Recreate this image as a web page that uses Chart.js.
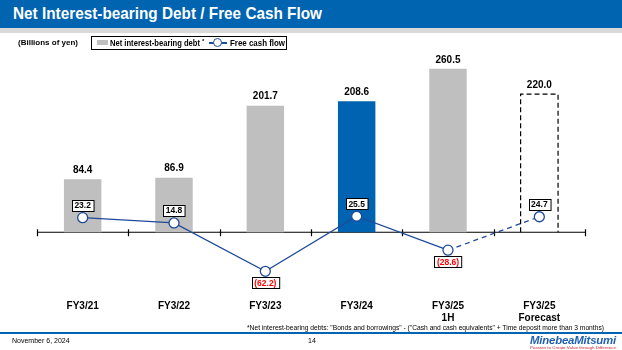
<!DOCTYPE html>
<html>
<head>
<meta charset="utf-8">
<script src="https://cdn.jsdelivr.net/npm/chart.js@4"></script>
<style>
  html, body { margin:0; padding:0; background:#fff; }
  #wrap { position:relative; width:622px; height:350px; overflow:hidden; font-family:"Liberation Sans", Arial, sans-serif; }
  #c { position:absolute; left:0; top:0; }
  .ov { position:absolute; pointer-events:none; white-space:nowrap; transform-origin:left top; }
  #titlebar { left:0; top:0; width:622px; height:28px; background:#0064B0; }
  #strip { left:0; top:28px; width:622px; height:5px; background:#D9D9D9; }
  #title { left:13px; top:4px; color:#fff; font-weight:bold; font-size:17px; line-height:20px; }
  #unit { left:18px; top:38px; font-weight:bold; font-size:8px; color:#000; }
  #legend { left:91px; top:36px; width:196px; height:14px; border:1px solid #000; box-sizing:border-box; font-weight:bold; font-size:8.5px; line-height:12px; }
  #legend span { position:absolute; top:0; transform-origin:left top; white-space:nowrap; }
  #footnote { left:247px; top:324px; font-size:7px; color:#000; }
  #fline { left:0; top:332px; width:622px; height:2px; background:#0064B0; }
  #date { left:12px; top:337px; font-size:7px; color:#000; }
  #page { left:308px; top:337px; font-size:7px; color:#000; }
  #logo { left:530px; top:334px; font-size:11.5px; font-weight:bold; font-style:italic; color:#1F5FB0; letter-spacing:-0.2px; }
  #tag { left:530px; top:346px; font-size:3.5px; color:#D0202A; }
</style>
</head>
<body>
<div id="wrap">
  <canvas id="c" width="622" height="350"></canvas>
  <div class="ov" id="titlebar"></div>
  <div class="ov" id="strip"></div>
  <div class="ov" id="title">Net Interest-bearing Debt / Free Cash Flow</div>
  <div class="ov" id="unit">(Billions of yen)</div>
  <div class="ov" id="legend">
    <span style="left:5px;top:3px;width:11px;height:5px;background:#BFBFBF;"></span>
    <span id="lg1" style="left:18px;">Net interest-bearing debt</span>
    <span style="left:110px;top:-2px;font-size:6px;">*</span>
    <span style="left:117px;top:5px;width:18px;height:2px;background:#1F4A9A;"></span>
    <span style="left:121px;top:1px;width:7px;height:7px;border:1.5px solid #1F4A9A;border-radius:50%;background:#fff;"></span>
    <span id="lg2" style="left:138px;">Free cash flow</span>
  </div>
  <div class="ov" id="footnote">*Net interest-bearing debts: "Bonds and borrowings" - ("Cash and cash equivalents" + Time deposit more than 3 months)</div>
  <div class="ov" id="fline"></div>
  <div class="ov" id="date">November 6, 2024</div>
  <div class="ov" id="page">14</div>
  <div class="ov" id="logo">MinebeaMitsumi</div>
  <div class="ov" id="tag">Passion to Create Value through Difference</div>
</div>
<script>
const categories = [["FY3/21"], ["FY3/22"], ["FY3/23"], ["FY3/24"], ["FY3/25", "1H"], ["FY3/25", "Forecast"]];
const debtValues = [84.4, 86.9, 201.7, 208.6, 260.5, 220.0];
const fcfValues = [23.2, 14.8, -62.2, 25.5, -28.6, 24.7];
const debtLabels = ["84.4", "86.9", "201.7", "208.6", "260.5", "220.0"];
const fcfLabels = ["23.2", "14.8", "(62.2)", "25.5", "(28.6)", "24.7"];
const barColors = ["#BFBFBF", "#BFBFBF", "#BFBFBF", "#0063B1", "#BFBFBF", "rgba(0,0,0,0)"];
const FORECAST_INDEX = 5;

function fitWidth(id, target) {
  const el = document.getElementById(id);
  const w = el.getBoundingClientRect().width;
  el.style.transform = 'scaleX(' + (target / w) + ')';
}
fitWidth('title', 309);
fitWidth('footnote', 357);
fitWidth('logo', 86);
fitWidth('tag', 86);
fitWidth('lg1', 90);
fitWidth('lg2', 55);

const FONT = '"Liberation Sans", Arial, sans-serif';

const overlay = {
  id: 'overlay',
  beforeDatasetsDraw(chart) {
    const ctx = chart.ctx, ca = chart.chartArea, y0 = chart.scales.y.getPixelForValue(0);
    const n = categories.length, step = (ca.right - ca.left) / n;
    ctx.save();
    ctx.strokeStyle = '#000';
    ctx.lineWidth = 1.2;
    ctx.beginPath();
    ctx.moveTo(ca.left, y0); ctx.lineTo(ca.right, y0);
    for (let i = 0; i <= n; i++) {
      const x = Math.round(ca.left + i * step) + 0.5;
      ctx.moveTo(x, y0 - 3); ctx.lineTo(x, y0 + 4);
    }
    ctx.stroke();
    ctx.restore();
  },
  afterDatasetsDraw(chart) {
    const ctx = chart.ctx;
    const barMeta = chart.getDatasetMeta(1);
    const lineMeta = chart.getDatasetMeta(0);
    ctx.save();
    // dashed forecast bar
    const fb = barMeta.data[FORECAST_INDEX];
    const hw = fb.width / 2;
    ctx.setLineDash([5, 3]);
    ctx.strokeStyle = '#000';
    ctx.lineWidth = 1.2;
    ctx.beginPath();
    ctx.moveTo(fb.x - hw, fb.base); ctx.lineTo(fb.x - hw, fb.y);
    ctx.lineTo(fb.x + hw, fb.y); ctx.lineTo(fb.x + hw, fb.base);
    ctx.stroke();
    ctx.setLineDash([]);
    // bar labels
    ctx.font = 'bold 10px ' + FONT;
    ctx.fillStyle = '#000';
    ctx.textAlign = 'center';
    ctx.textBaseline = 'bottom';
    barMeta.data.forEach((el, i) => {
      ctx.fillText(debtLabels[i], el.x, el.y - 4);
    });
    // fcf labels in boxes
    ctx.font = 'bold 8.5px ' + FONT;
    ctx.textBaseline = 'middle';
    lineMeta.data.forEach((pt, i) => {
      const neg = fcfValues[i] < 0;
      const txt = fcfLabels[i];
      const tw = ctx.measureText(txt).width;
      const bw = tw + 5, bh = 11;
      const cy = neg ? pt.y + 6 + bh / 2 : pt.y - 6 - bh / 2 - 1;
      const bx = Math.round(pt.x - bw / 2) + 0.5, by = Math.round(cy - bh / 2) + 0.5;
      ctx.fillStyle = '#fff';
      ctx.fillRect(bx, by, bw, bh);
      ctx.strokeStyle = '#000';
      ctx.lineWidth = 1;
      ctx.strokeRect(bx, by, bw, bh);
      ctx.fillStyle = neg ? '#FF0000' : '#000';
      ctx.fillText(txt, pt.x, cy + 0.5);
    });
    ctx.restore();
  }
};

new Chart(document.getElementById('c'), {
  data: {
    labels: categories,
    datasets: [
      {
        type: 'line',
        label: 'Free cash flow',
        data: fcfValues,
        order: 0,
        borderColor: '#1F4A9A',
        borderWidth: 1.3,
        pointRadius: 5,
        pointBorderWidth: 1.3,
        pointBackgroundColor: '#fff',
        pointBorderColor: '#1F4A9A',
        tension: 0,
        segment: {
          borderDash: ctx => ctx.p0DataIndex === FORECAST_INDEX - 1 ? [5, 4] : undefined
        }
      },
      {
        type: 'bar',
        label: 'Net interest-bearing debt',
        data: debtValues,
        order: 1,
        backgroundColor: barColors,
        borderWidth: 0,
        barPercentage: 0.41,
        categoryPercentage: 1.0
      }
    ]
  },
  options: {
    responsive: false,
    animation: false,
    events: [],
    layout: { padding: { left: 37, right: 37, top: 44, bottom: 21 } },
    plugins: { legend: { display: false }, tooltip: { enabled: false } },
    scales: {
      x: {
        grid: { display: false, drawTicks: false },
        border: { display: false },
        ticks: { color: '#000', font: { family: FONT, weight: 'bold', size: 10 }, padding: 5, maxRotation: 0, autoSkip: false }
      },
      y: {
        display: false,
        min: -100,
        max: 300
      }
    }
  },
  plugins: [overlay]
});
</script>
</body>
</html>
